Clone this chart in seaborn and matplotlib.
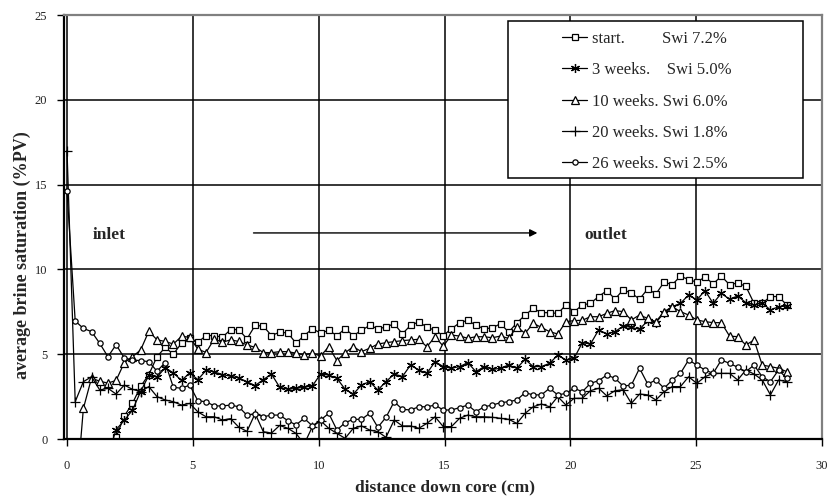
import matplotlib
matplotlib.use("Agg")
import matplotlib.pyplot as plt
import seaborn as sns
from matplotlib.patches import Rectangle

sns.set_theme(style="white")
plt.rcParams['font.family'] = ['Liberation Serif', 'DejaVu Serif']

# distance grid (cm), scan slices
distance_cm = [0.0, 0.325, 0.65, 0.975, 1.3, 1.625, 1.95, 2.275, 2.6, 2.925,
               3.25, 3.575, 3.9, 4.225, 4.55, 4.875, 5.2, 5.525, 5.85, 6.175,
               6.5, 6.825, 7.15, 7.475, 7.8, 8.125, 8.45, 8.775, 9.1, 9.425,
               9.75, 10.075, 10.4, 10.725, 11.05, 11.375, 11.7, 12.025, 12.35, 12.675,
               13.0, 13.325, 13.65, 13.975, 14.3, 14.625, 14.95, 15.275, 15.6, 15.925,
               16.25, 16.575, 16.9, 17.225, 17.55, 17.875, 18.2, 18.525, 18.85, 19.175,
               19.5, 19.825, 20.15, 20.475, 20.8, 21.125, 21.45, 21.775, 22.1, 22.425,
               22.75, 23.075, 23.4, 23.725, 24.05, 24.375, 24.7, 25.025, 25.35, 25.675,
               26.0, 26.325, 26.65, 26.975, 27.3, 27.625, 27.95, 28.275, 28.6]

# start. (from slice 6)
sat_start = [0.1, 1.35, 2.1, 3.1, 3.8, 4.85, 5.4, 5.0, 5.65, 5.95,
             5.7, 6.1, 6.1, 6.0, 6.45, 6.45, 5.9, 6.7, 6.65, 6.1,
             6.3, 6.25, 5.65, 6.1, 6.5, 6.25, 6.4, 6.1, 6.5, 6.1,
             6.4, 6.7, 6.5, 6.6, 6.8, 6.2, 6.7, 6.9, 6.6, 6.4,
             6.1, 6.5, 6.85, 7.0, 6.7, 6.5, 6.55, 6.8, 6.3, 6.85,
             7.3, 7.7, 7.45, 7.45, 7.4, 7.9, 7.5, 7.9, 8.0, 8.4,
             8.75, 8.25, 8.8, 8.6, 8.25, 8.85, 8.55, 9.25, 9.1, 9.6,
             9.4, 9.25, 9.55, 9.15, 9.6, 9.1, 9.2, 9.0, 8.0, 8.0,
             8.4, 8.4, 7.9]
# 3 weeks (from slice 5)
sat_3wk = [-1.0,
           0.55, 1.1, 1.7, 2.8, 3.75, 3.65, 4.2, 3.9, 3.45, 3.9,
           3.5, 4.05, 3.95, 3.8, 3.7, 3.6, 3.37, 3.15, 3.5, 3.83,
           3.05, 2.93, 2.99, 3.05, 3.13, 3.83, 3.77, 3.58, 2.93, 2.65,
           3.18, 3.38, 2.89, 3.38, 3.83, 3.68, 4.36, 4.07, 3.87, 4.56,
           4.27, 4.17, 4.27, 4.5, 3.97, 4.27, 4.1, 4.17, 4.36, 4.17,
           4.7, 4.27, 4.27, 4.46, 4.95, 4.66, 4.76, 5.68, 5.6, 6.43,
           6.19, 6.33, 6.66, 6.58, 6.47, 6.98, 6.86, 7.45, 7.8, 8.0,
           8.49, 8.2, 8.75, 8.0, 8.59, 8.24, 8.43, 8.04, 7.9, 8.04,
           7.6, 7.8, 7.84]
# 10 weeks (from slice 1)
sat_10wk = [-4.0, 1.8, 3.6, 3.4, 3.3, 3.45, 4.5, 4.85, 5.25, 6.35,
            5.85, 5.75, 5.6, 6.05, 6.0, 5.3, 5.1, 5.9, 5.7, 5.85,
            5.75, 5.55, 5.4, 5.1, 5.09, 5.15, 5.15, 5.06, 4.97, 5.06,
            4.89, 5.44, 4.62, 5.09, 5.44, 5.15, 5.35, 5.6, 5.68, 5.74,
            5.8, 5.84, 5.88, 5.44, 6.03, 5.47, 6.13, 6.07, 5.94, 6.03,
            6.03, 5.97, 6.07, 5.93, 6.62, 6.23, 6.82, 6.58, 6.33, 6.19,
            6.92, 6.98, 7.0, 7.21, 7.21, 7.41, 7.57, 7.51, 7.02, 7.31,
            7.11, 6.92, 7.51, 7.8, 7.51, 7.31, 7.02, 6.92, 6.86, 6.86,
            6.07, 6.03, 5.54, 5.84, 4.36, 4.27, 4.17, 3.97]
# 20 weeks (from slice 0)
sat_20wk = [17.0, 2.2, 3.38, 3.67, 2.89, 2.99, 2.65, 3.18, 2.93, 2.79,
            3.09, 2.5, 2.3, 2.2, 2.0, 2.1, 1.6, 1.31, 1.31, 1.12,
            1.2, 0.7, 0.45, 1.5, 0.43, 0.35, 0.8, 0.63, 0.33, -0.3,
            0.73, 1.08, 0.63, 0.33, 0.04, 0.63, 0.77, 0.53, 0.43, 0.1,
            1.12, 0.77, 0.77, 0.63, 0.92, 1.31, 0.73, 0.73, 1.22, 1.41,
            1.31, 1.31, 1.28, 1.22, 1.16, 0.92, 1.51, 1.9, 2.06, 1.9,
            2.5, 2.0, 2.4, 2.4, 2.85, 2.99, 2.54, 2.85, 2.9, 2.1,
            2.65, 2.6, 2.3, 2.79, 3.09, 3.09, 3.67, 3.28, 3.67, 3.87,
            3.87, 3.87, 3.48, 4.07, 3.83, 3.48, 2.6, 3.48, 3.38]
# 26 weeks (from slice 0)
sat_26wk = [14.6, 6.96, 6.52, 6.33, 5.64, 4.85, 5.56, 4.78, 4.66, 4.62,
            4.56, 4.0, 4.5, 3.05, 2.99, 3.18, 2.25, 2.2, 1.95, 1.95,
            2.0, 1.9, 1.4, 1.5, 1.31, 1.41, 1.41, 1.08, 0.83, 1.22,
            0.77, 1.12, 1.51, 0.53, 0.96, 1.16, 1.16, 1.51, 0.69, 1.28,
            2.2, 1.75, 1.71, 1.9, 1.9, 2.0, 1.71, 1.71, 1.85, 2.0,
            1.61, 1.9, 2.0, 2.14, 2.2, 2.3, 2.73, 2.6, 2.6, 2.99,
            2.6, 2.69, 2.99, 2.79, 3.28, 3.44, 3.77, 3.58, 3.12, 3.18,
            4.17, 3.24, 3.48, 2.99, 3.48, 3.87, 4.66, 4.36, 4.07, 3.87,
            4.66, 4.46, 4.23, 3.97, 4.36, 3.67, 3.38, 4.07, 3.58]

labels = ["start.         Swi 7.2%",
          "3 weeks.    Swi 5.0%",
          "10 weeks. Swi 6.0%",
          "20 weeks. Swi 1.8%",
          "26 weeks. Swi 2.5%"]
first_slice = [6, 5, 1, 0, 0]
values = [sat_start, sat_3wk, sat_10wk, sat_20wk, sat_26wk]
styles = [dict(marker='s', markersize=5.0, markerfacecolor='white'),
          dict(marker=(6, 2, 0), markersize=6.5),
          dict(marker='^', markersize=5.5, markerfacecolor='white'),
          dict(marker='+', markersize=6.5),
          dict(marker='o', markersize=3.8, markerfacecolor='white')]

fig = plt.figure(figsize=(8.3, 4.97), dpi=100)
ax = fig.add_axes([64 / 830, 1 - 439 / 497, 758 / 830, 424 / 497])

for lab, start, vals, st in zip(labels, first_slice, values, styles):
    xs = distance_cm[start:start + len(vals)]
    sns.lineplot(x=xs, y=vals, ax=ax, color='black', linewidth=0.9,
                 sort=False, estimator=None, label=lab,
                 markeredgecolor='black', markeredgewidth=0.9, **st)

ax.set_xlim(-0.12, 30)
ax.set_ylim(0, 25)
ax.set_xticks([0, 5, 10, 15, 20, 25, 30])
ax.set_yticks([0, 5, 10, 15, 20, 25])
ax.grid(True, color='black', linewidth=1.1)
ax.set_axisbelow(True)
ax.tick_params(axis='both', direction='out', length=5, width=1, color='black',
               labelsize=9, labelcolor='#222222', bottom=True, left=True)
ax.tick_params(axis='x', pad=10)
ax.tick_params(axis='y', pad=7)
for side in ['left', 'bottom']:
    ax.spines[side].set_color('black')
    ax.spines[side].set_linewidth(1.6)
for side in ['top', 'right']:
    ax.spines[side].set_color('#808080')
    ax.spines[side].set_linewidth(1.6)

ax.set_xlabel("distance down core (cm)", fontsize=12.5, fontweight='bold')
ax.set_ylabel("average brine saturation (%PV)", fontsize=13, fontweight='bold')
ax.xaxis.set_label_coords(0.503, -0.095)
ax.yaxis.set_label_coords(-0.044, 0.434)

ax.text(1.03, 12.0, "inlet", fontsize=12.5, fontweight='bold', ha='left', va='center')
ax.text(20.55, 12.0, "outlet", fontsize=12.5, fontweight='bold', ha='left', va='center')
ax.annotate('', xy=(18.8, 12.15), xytext=(7.3, 12.15),
            arrowprops=dict(arrowstyle='-|>', color='black', lw=1.0, mutation_scale=11))

# legend box
ax.add_patch(Rectangle((0.5858, 0.6156), 0.975 - 0.5858, 0.9858 - 0.6156,
                       transform=ax.transAxes, facecolor='white', edgecolor='black',
                       linewidth=1.1, zorder=5, clip_on=False))
handles, labs = ax.get_legend_handles_labels()
leg = ax.legend(handles, labs, loc='upper left', bbox_to_anchor=(0.657, 0.9625),
                frameon=False, fontsize=12, borderpad=0, borderaxespad=0,
                handlelength=1.5, handletextpad=0.3, labelspacing=0.92)
leg.set_zorder(6)

fig.savefig("out.png", dpi=100)
